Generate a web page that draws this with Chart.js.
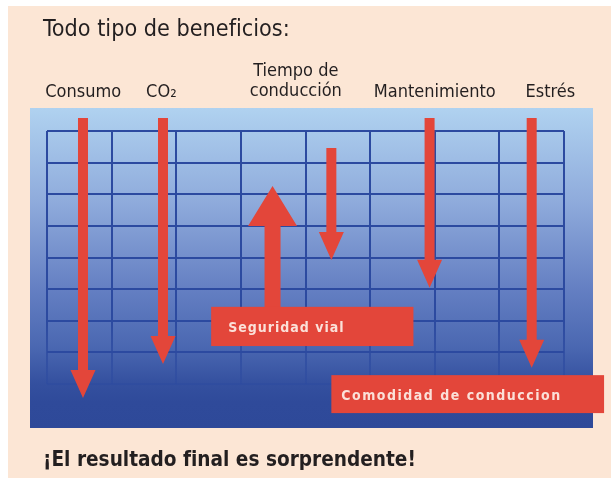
<!DOCTYPE html>
<html lang="es">
<head>
<meta charset="utf-8">
<title>Todo tipo de beneficios</title>
<script src="https://cdn.jsdelivr.net/npm/chart.js@4.4.1/dist/chart.umd.min.js"></script>
<style>
  html, body { margin: 0; padding: 0; background: #ffffff; }
  canvas { display: block; }
</style>
</head>
<body>
<canvas id="grafico" width="611" height="478"></canvas>
<script>
// Datos (unidades de la cuadrícula: x = columnas, y = filas contadas desde abajo)
const categorias = ["Consumo", "CO₂", "Tiempo de\nconducción", "Mantenimiento", "Estrés"];
const etiquetaX = [0.56, 1.77, 3.85, 6.0, 7.79];

// flechas que bajan (una por categoría)
const flechaX = [0.557, 1.795, 4.40, 5.92, 7.50];
const flechaDesde = [8.41, 8.41, 7.46, 8.41, 8.41];
const flechaHasta = [-0.44, 0.63, 3.92, 3.04, 0.51];

// flecha que sube
const mejoras = ["Seguridad vial", "Comodidad de conduccion"];
const subeX = [3.49];
const subeDesde = [2.3];
const subeHasta = [6.26];

// rótulos rojos (esquinas en unidades de la cuadrícula)
const rotuloX0 = [2.54, 4.40];
const rotuloX1 = [5.67, 8.62];
const rotuloY0 = [2.44, 0.28];
const rotuloY1 = [1.20, -0.92];

const titulo = "Todo tipo de beneficios:";
const conclusion = "¡El resultado final es sorprendente!";

const ROJO = "#e3463a";
const TINTA = "#231f20";
const FUENTE = "'DejaVu Sans Condensed', 'DejaVu Sans', sans-serif";

function texto(ctx, str, x, y, size, weight, align, color, espacio) {
    ctx.font = weight + " " + size + "px " + FUENTE;
    ctx.fontStretch = "condensed";
    ctx.letterSpacing = (espacio || 0) + "px";
    ctx.textAlign = align;
    ctx.textBaseline = "alphabetic";
    ctx.fillStyle = color;
    ctx.fillText(str, x, y);
}

function flecha(ctx, x, y0, y1, ancho, cabeza, largo) {
    const dir = y1 > y0 ? 1 : -1;
    const base = y1 - dir * largo;
    ctx.beginPath();
    ctx.moveTo(x - ancho / 2, y0);
    ctx.lineTo(x - ancho / 2, base);
    ctx.lineTo(x - cabeza / 2, base);
    ctx.lineTo(x, y1);
    ctx.lineTo(x + cabeza / 2, base);
    ctx.lineTo(x + ancho / 2, base);
    ctx.lineTo(x + ancho / 2, y0);
    ctx.closePath();
    ctx.fillStyle = ROJO;
    ctx.fill();
}

// fondo durazno + panel degradado
const fondo = {
    id: "fondo",
    beforeDraw(chart) {
        const ctx = chart.ctx;
        ctx.save();
        ctx.fillStyle = "#ffffff";
        ctx.fillRect(0, 0, chart.width, chart.height);
        ctx.fillStyle = "#fce6d5";
        ctx.fillRect(8, 6, chart.width - 8, chart.height - 6);

        const g = ctx.createLinearGradient(0, 108, 0, 428);
        g.addColorStop(0, "#b0d2f0");
        g.addColorStop(0.30, "#8eaadb");
        g.addColorStop(0.56, "#6580c3");
        g.addColorStop(0.75, "#4a67b1");
        g.addColorStop(0.86, "#34509f");
        g.addColorStop(0.92, "#2f4a9a");
        g.addColorStop(1, "#2e4999");
        ctx.fillStyle = g;
        ctx.fillRect(30, 108, 563, 320);
        ctx.restore();
    }
};

// flechas, rótulos y textos
const dibujo = {
    id: "dibujo",
    afterDatasetsDraw(chart) {
        const ctx = chart.ctx;
        const xs = chart.scales.x, ys = chart.scales.y;
        ctx.save();

        // flechas hacia abajo: posiciones de los puntos calculadas por Chart.js
        flechaX.forEach((v, i) => {
            const meta = chart.getDatasetMeta(i);
            const a = meta.data[0], b = meta.data[1];
            flecha(ctx, a.x, a.y, b.y, 10, 25, 28);
        });
        // flecha hacia arriba
        const metaSube = chart.getDatasetMeta(flechaX.length);
        flecha(ctx, metaSube.data[0].x, metaSube.data[0].y, metaSube.data[1].y, 16, 49, 40);

        // rótulos
        const sangria = [17, 10];
        const espacio = [1, 1.5];
        mejoras.forEach((m, i) => {
            const x0 = xs.getPixelForValue(rotuloX0[i]);
            const x1 = xs.getPixelForValue(rotuloX1[i]);
            const y0 = ys.getPixelForValue(rotuloY0[i]);
            const y1 = ys.getPixelForValue(rotuloY1[i]);
            ctx.fillStyle = ROJO;
            ctx.fillRect(x0, y0, x1 - x0, y1 - y0);
            texto(ctx, m, x0 + sangria[i], (y0 + y1) / 2 + 5.5, 14, "bold", "left", "#fbe0d8", espacio[i]);
        });

        // títulos de columna
        categorias.forEach((c, i) => {
            const x = xs.getPixelForValue(etiquetaX[i]);
            const lineas = c.split("\n");
            if (lineas.length === 2) {
                texto(ctx, lineas[0], x, 76, 18, "normal", "center", TINTA);
                texto(ctx, lineas[1], x, 96, 18, "normal", "center", TINTA);
            } else {
                texto(ctx, lineas[0], x, 97, 18, "normal", "center", TINTA);
            }
        });

        texto(ctx, titulo, 43, 36, 23.2, "normal", "left", TINTA);
        texto(ctx, conclusion, 43, 466, 20.6, "bold", "left", TINTA);
        ctx.restore();
    }
};

const datasets = flechaX.map((x, i) => ({
    label: categorias[i],
    data: [{ x: x, y: flechaDesde[i] }, { x: x, y: flechaHasta[i] }],
    pointRadius: 0,
    showLine: false,
    clip: false
}));
datasets.push({
    label: mejoras[0],
    data: [{ x: subeX[0], y: subeDesde[0] }, { x: subeX[0], y: subeHasta[0] }],
    pointRadius: 0,
    showLine: false,
    clip: false
});

const ctx = document.getElementById("grafico").getContext("2d");

// las líneas de la cuadrícula se funden con el azul oscuro de abajo
const lineaVertical = ctx.createLinearGradient(0, 131, 0, 384);
lineaVertical.addColorStop(0, "#2c4aa0");
lineaVertical.addColorStop(0.75, "#2c4aa0");
lineaVertical.addColorStop(1, "rgba(44,74,160,0.5)");

const grafico = new Chart(ctx, {
    type: "scatter",
    data: { datasets: datasets },
    options: {
        responsive: false,
        animation: false,
        events: [],
        layout: { padding: { left: 47, right: 47, top: 131, bottom: 94 } },
        plugins: {
            legend: { display: false },
            tooltip: { enabled: false },
            title: { display: false }
        },
        scales: {
            x: {
                type: "linear",
                min: 0,
                max: 8,
                ticks: { display: false, stepSize: 1 },
                grid: { color: lineaVertical, lineWidth: 2, drawTicks: false },
                border: { display: false }
            },
            y: {
                type: "linear",
                min: 0,
                max: 8,
                ticks: { display: false, stepSize: 1 },
                grid: {
                    color: (c) => c.tick && c.tick.value === 0 ? "rgba(44,74,160,0.5)" : "#2c4aa0",
                    lineWidth: 2,
                    drawTicks: false
                },
                border: { display: false }
            }
        }
    },
    plugins: [fondo, dibujo]
});
</script>
</body>
</html>
